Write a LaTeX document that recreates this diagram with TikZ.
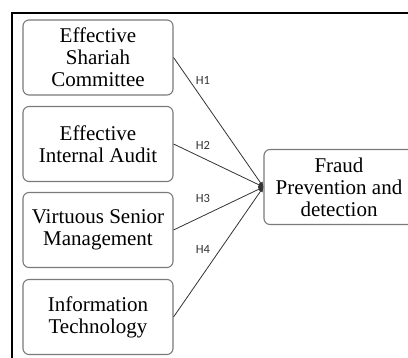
\documentclass[tikz,border=0pt]{standalone}
\usepackage{fontspec}
\setmainfont{Liberation Serif}
\newfontfamily\labfont{Carlito}
\usetikzlibrary{arrows.meta}
\definecolor{boxgray}{HTML}{7A7A7A}
\definecolor{linegray}{HTML}{333333}
\tikzset{
  varbox/.style={draw=boxgray, line width=1.1pt, rounded corners=6pt, minimum width=150pt, minimum height=75pt, align=center, inner sep=0pt, font=\fontsize{21}{22}\selectfont, text=black},
  link/.style={draw=linegray, line width=0.8pt, -{Latex[length=5pt,width=5pt]}},
  hlab/.style={font=\labfont\fontsize{12.5}{13}\selectfont, text=linegray, inner sep=0pt},
  frameline/.style={line width=2pt, draw=black}
}
\begin{document}
\begin{tikzpicture}[x=1pt,y=-1pt]
\useasboundingbox (0,0) rectangle (408,358);
\clip (0,0) rectangle (408,358);
\draw[frameline] (12,360) -- (12,13) -- (410,13);
\node[varbox] (b1) at (98,57.5) {Effective\\Shariah\\Committee};
\node[varbox] (b2) at (98,144) {Effective\\Internal Audit};
\node[varbox] (b3) at (98,230) {Virtuous Senior\\Management};
\node[varbox] (b4) at (98,317) {Information\\Technology};
\node[varbox] (t) at (339,187) {Fraud\\Prevention and\\detection};
\draw[link] (b1.east) -- (t.west);
\draw[link] (b2.east) -- (t.west);
\draw[link] (b3.east) -- (t.west);
\draw[link] (b4.east) -- (t.west);
\node[hlab] (h1) at (203,80) {H1};
\node[hlab] (h2) at (203,145) {H2};
\node[hlab] (h3) at (203,198) {H3};
\node[hlab] (h4) at (203,249.5) {H4};
\end{tikzpicture}
\end{document}
